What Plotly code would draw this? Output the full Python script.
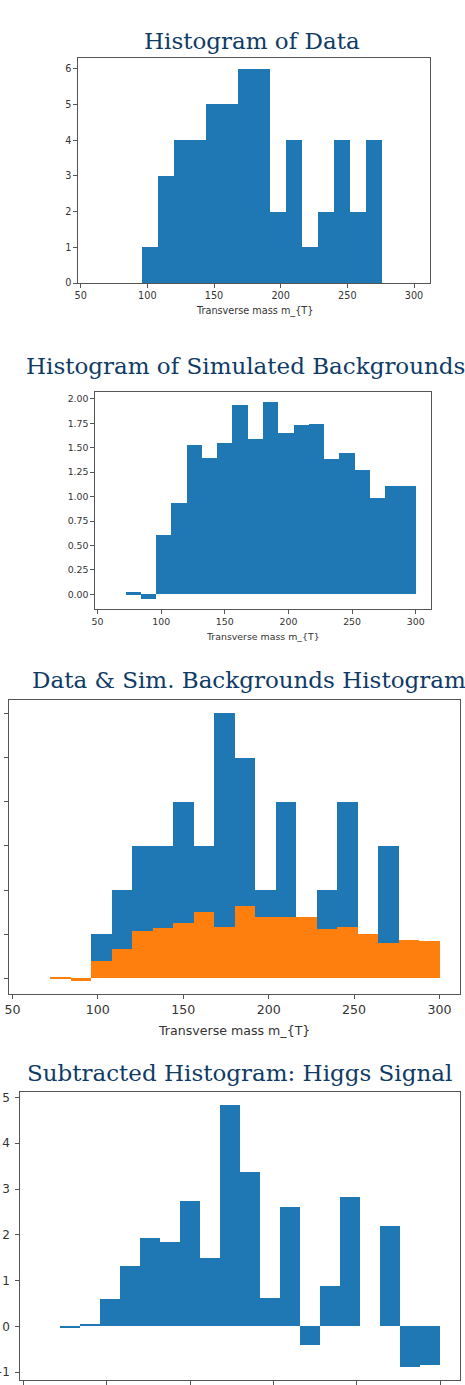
import plotly.graph_objects as go

# Histogram bin edges for the transverse mass (GeV)
bin_edges = [60, 72, 84, 96, 108, 120, 132, 144, 156, 168, 180,
             192, 204, 216, 228, 240, 252, 264, 276, 288, 300]

# Observed event counts per bin
data_counts = [0, 0, 0, 1, 3, 4, 4, 5, 5, 6, 6, 2, 4, 1, 2, 4, 2, 4, 0, 0]

# Weighted simulated background per bin
sim_background = [0, 0.02, -0.05, 0.61, 0.93, 1.53, 1.40, 1.55, 1.94, 1.59,
                  1.97, 1.65, 1.73, 1.74, 1.38, 1.45, 1.27, 0.99, 1.11, 1.11]

# Second sample: data and scaled backgrounds used for the comparison
data_counts_cmp = [0, 0, 0, 1, 2, 3, 3, 4, 3, 6, 5, 2, 4, 1, 2, 4, 1, 3, 0, 0]
sim_background_cmp = [0, 0.02, -0.05, 0.40, 0.67, 1.07, 1.15, 1.26, 1.50, 1.17,
                      1.63, 1.38, 1.40, 1.40, 1.11, 1.17, 1.00, 0.80, 0.88, 0.85]

# Signal = data minus background
higgs_signal = [round(d - b, 4) for d, b in zip(data_counts_cmp, sim_background_cmp)]

titles = ["Histogram of Data",
          "Histogram of Simulated Backgrounds",
          "Data & Sim. Backgrounds Histogram",
          "Subtracted Histogram: Higgs Signal"]
x_label = "Transverse mass m_{T}"
x_ticks = [50, 100, 150, 200, 250, 300]

centers = [(a + b) / 2 for a, b in zip(bin_edges[:-1], bin_edges[1:])]
widths = [b - a for a, b in zip(bin_edges[:-1], bin_edges[1:])]

BLUE = "#1f77b4"
ORANGE = "#ff7f0e"
TITLE_COLOR = "#0f3b66"
AXIS_COLOR = "#555555"
TICK_COLOR = "#333333"

W, H = 465, 1385


def px_x(v):
    return v / W


def px_y(v):
    return 1 - v / H


fig = go.Figure()


def hist(values, color, idx):
    fig.add_trace(go.Bar(
        x=centers, y=values, width=widths,
        marker=dict(color=color, line=dict(width=0)),
        xaxis="x" if idx == 1 else f"x{idx}",
        yaxis="y" if idx == 1 else f"y{idx}",
        showlegend=False, hoverinfo="x+y",
    ))


hist(data_counts, BLUE, 1)
hist(sim_background, BLUE, 2)
hist(data_counts_cmp, BLUE, 3)
hist(sim_background_cmp, ORANGE, 3)
hist(higgs_signal, BLUE, 4)

# Panel geometry in pixels: (left, right, top, bottom)
panels = [
    (78, 430, 58, 283),
    (95, 431, 392, 609),
    (9, 460, 700, 994),
    (20, 460, 1092, 1380),
]
y_ranges = [[0, 6.3], [-0.151, 2.071], [-0.3525, 6.3025], [-1.17, 5.12]]
y_ticks = [
    dict(tickvals=[0, 1, 2, 3, 4, 5, 6]),
    dict(tickvals=[0, 0.25, 0.5, 0.75, 1.0, 1.25, 1.5, 1.75, 2.0], tickformat=".2f"),
    dict(tickvals=[0, 1, 2, 3, 4, 5, 6], showticklabels=False),
    dict(tickvals=[-1, 0, 1, 2, 3, 4, 5], ticklabelstandoff=3),
]
x_label_show = [True, True, True, False]
tick_sizes = [9.7, 9.4, 12.6, 12.0]

layout = dict(
    width=W, height=H,
    margin=dict(l=0, r=0, t=0, b=0),
    paper_bgcolor="white", plot_bgcolor="white",
    barmode="overlay", bargap=0,
    showlegend=False,
    annotations=[],
)

for i, (l, r, t, b) in enumerate(panels):
    n = i + 1
    xs = "xaxis" if n == 1 else f"xaxis{n}"
    ys = "yaxis" if n == 1 else f"yaxis{n}"
    ya = "y" if n == 1 else f"y{n}"
    xa = "x" if n == 1 else f"x{n}"
    common = dict(
        showline=True, linecolor=AXIS_COLOR, linewidth=1.2, mirror=True,
        ticks="outside", ticklen=3.5, tickwidth=1, tickcolor=AXIS_COLOR,
        showgrid=False, zeroline=False, automargin=False,
        tickfont=dict(family="DejaVu Sans", size=tick_sizes[i], color=TICK_COLOR),
    )
    layout[xs] = dict(common, domain=[px_x(l), px_x(r)], range=[48, 312],
                      tickvals=x_ticks, anchor=ya,
                      showticklabels=x_label_show[i])
    layout[ys] = dict(common, domain=[px_y(b), px_y(t)], range=y_ranges[i],
                      anchor=xa, **y_ticks[i])

# Panel titles
title_pos = [
    (251.5, 55.5, "center"),
    (24, 380.5, "left"),
    (30, 694.5, "left"),
    (25, 1087.5, "left"),
]
for (x, y, anchor), text in zip(title_pos, titles):
    layout["annotations"].append(dict(
        text=text, x=px_x(x), y=px_y(y), xref="paper", yref="paper",
        xanchor=anchor, yanchor="bottom", showarrow=False,
        font=dict(family="DejaVu Serif", size=23, color=TITLE_COLOR),
    ))

# x-axis labels
xlabel_pos = [(254, 311, 9.7), (263, 636, 9.4), (234, 1030, 12.6)]
for x, y, size in xlabel_pos:
    layout["annotations"].append(dict(
        text=x_label, x=px_x(x), y=px_y(y), xref="paper", yref="paper",
        xanchor="center", yanchor="middle", showarrow=False,
        font=dict(family="DejaVu Sans", size=size, color=TICK_COLOR),
    ))

fig.update_layout(**layout)
fig.write_html("out.html")
